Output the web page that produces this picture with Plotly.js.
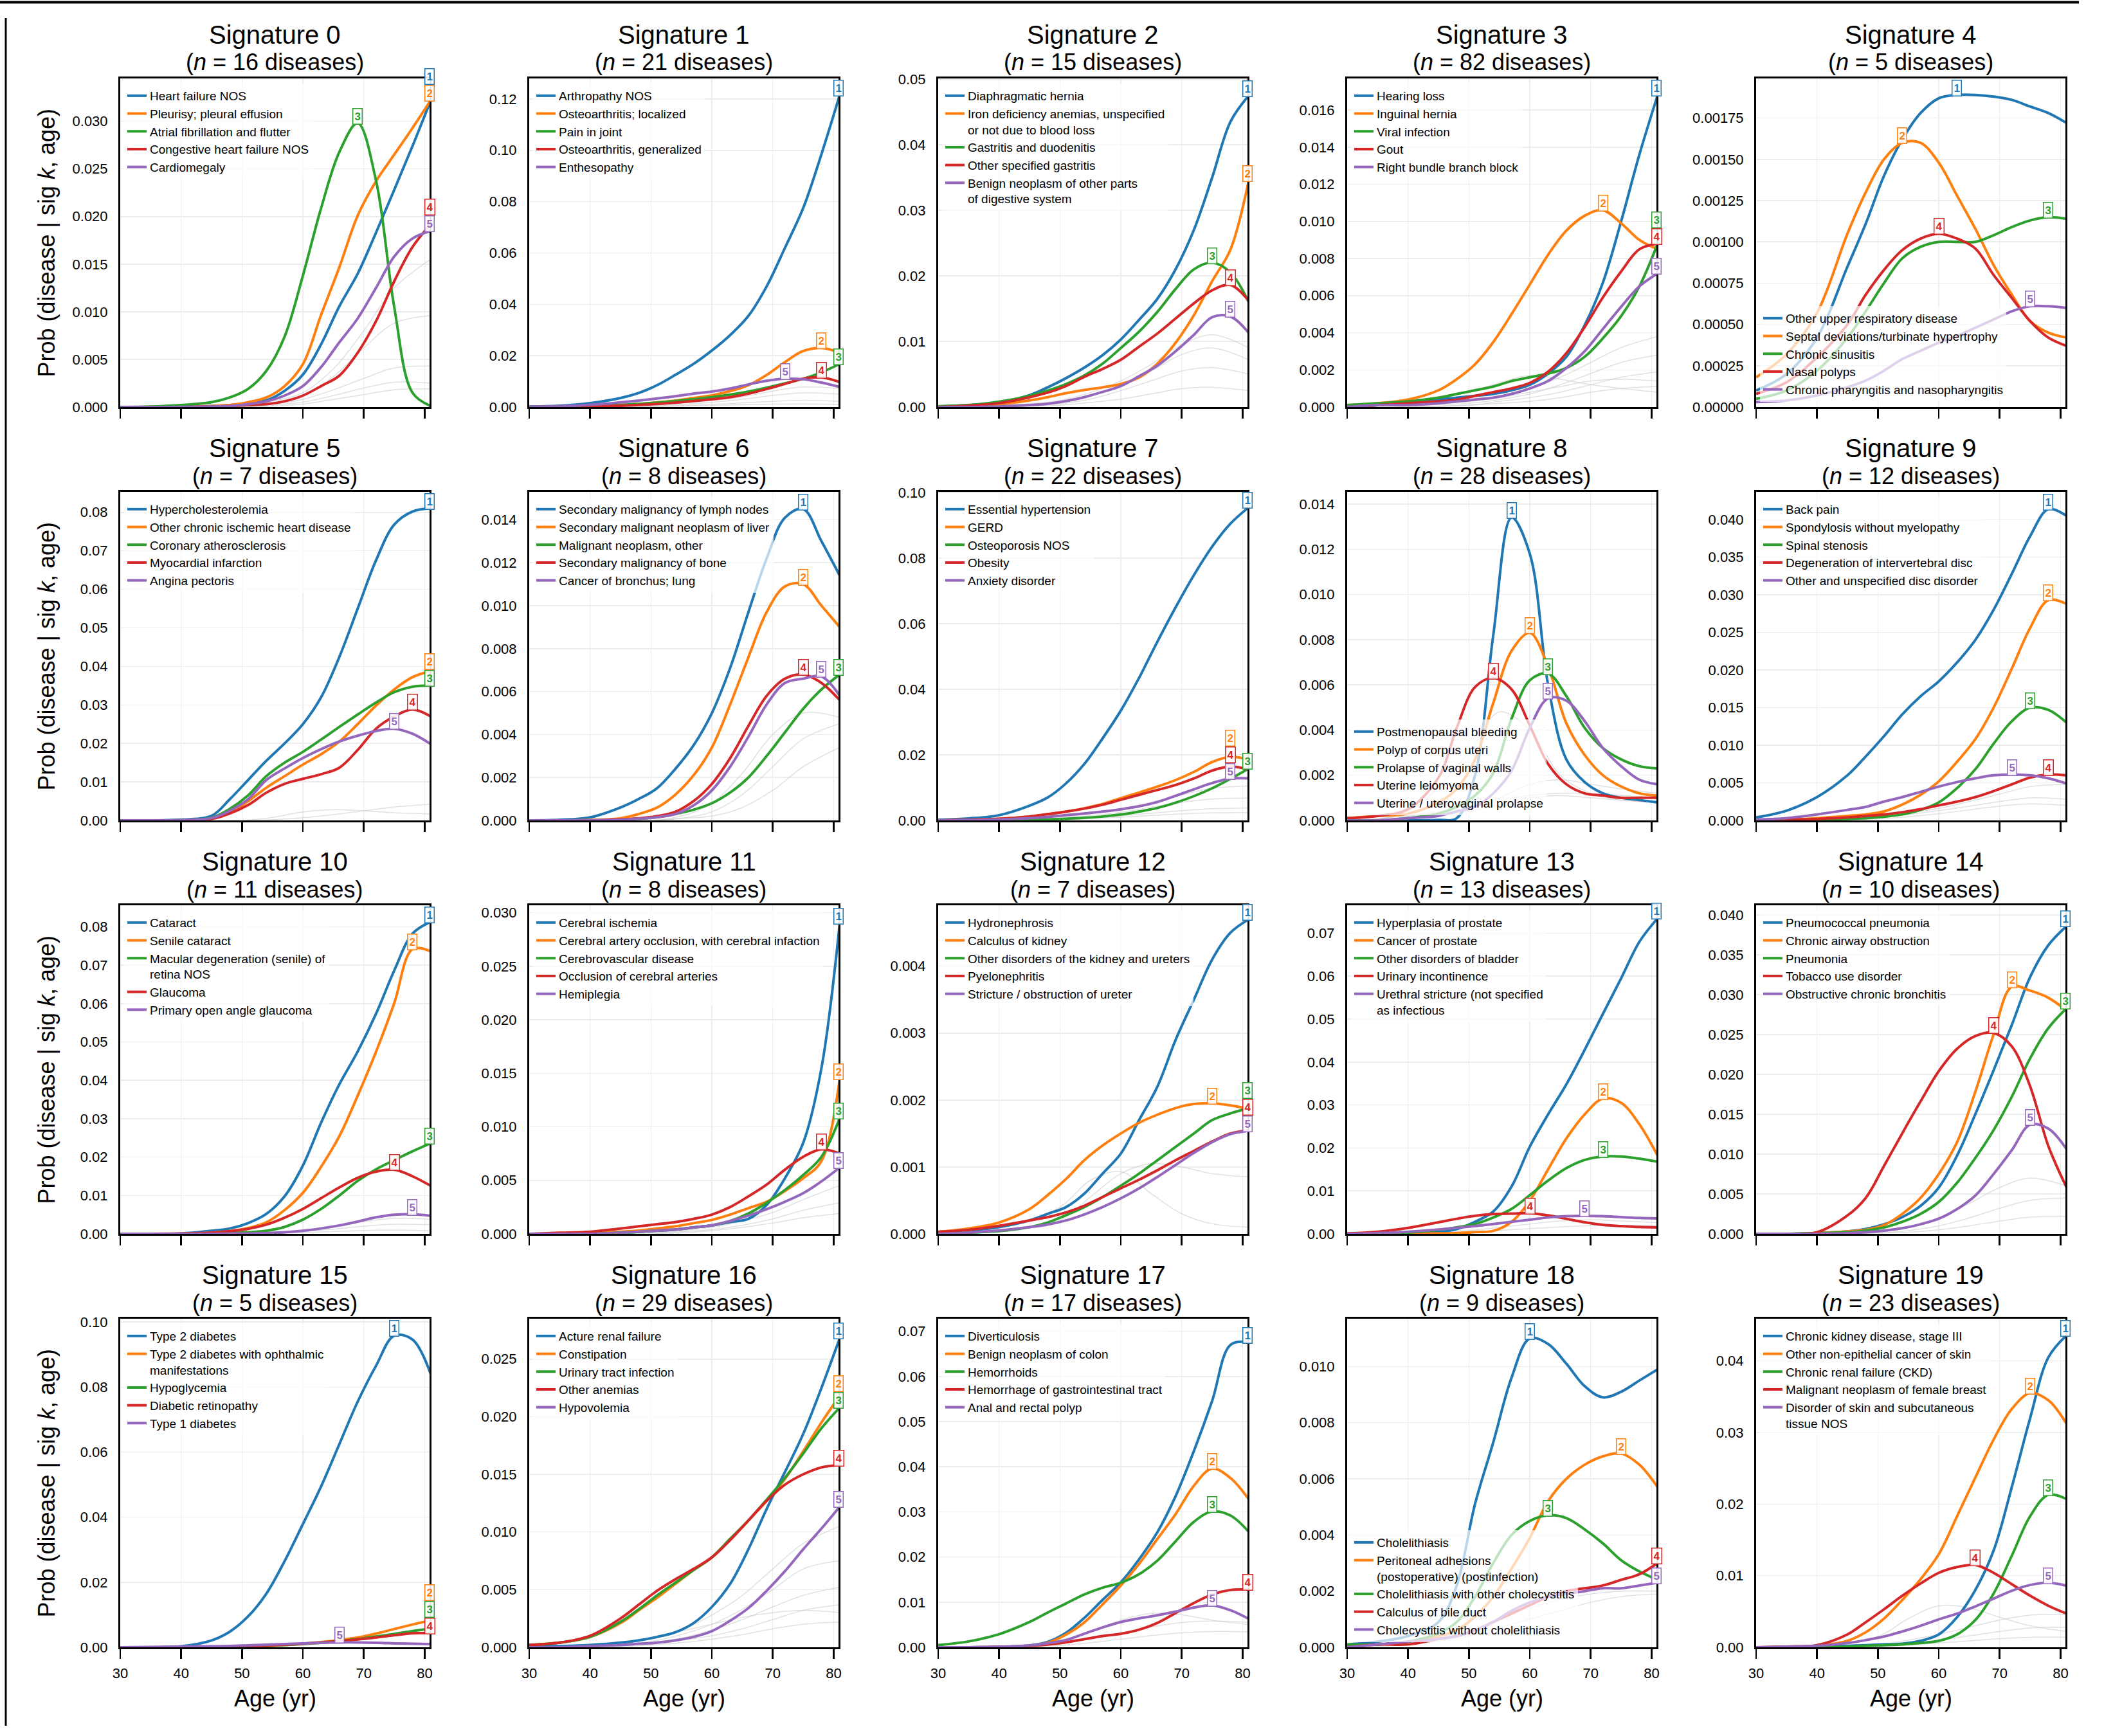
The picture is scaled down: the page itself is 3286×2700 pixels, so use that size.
<!DOCTYPE html>
<html>
<head>
<meta charset="utf-8">
<script src="https://cdn.plot.ly/plotly-3.0.1.min.js"></script>
<style>
  html, body { margin: 0; padding: 0; background: #fff; }
  #chart { width: 3286px; height: 2700px; }
</style>
</head>
<body>
<div id="chart"></div>
<script>
// -----------------------
// Data
// -----------------------
const AGES = [30, 35, 40, 45, 48, 51, 54, 57, 60, 63, 66, 69, 72, 75, 78, 81];
const AGES_BG = [30, 40, 50, 55, 60, 65, 70, 75, 81];

const N_DISEASES = [16, 21, 15, 82, 5, 7, 8, 22, 28, 12, 11, 8, 7, 13, 10, 5, 29, 17, 9, 23];
const Y_MAX  = [0.0345, 0.128, 0.0501, 0.0177, 0.00199, 0.0853, 0.0153, 0.1002, 0.01454, 0.0437,
                0.0856, 0.0307, 0.00491, 0.0765, 0.0412, 0.101, 0.0285, 0.0728, 0.0117, 0.0459];
const Y_STEP = [0.005, 0.02, 0.01, 0.002, 0.00025, 0.01, 0.002, 0.02, 0.002, 0.005,
                0.01, 0.005, 0.001, 0.01, 0.005, 0.02, 0.005, 0.01, 0.002, 0.01];
const Y_FMT  = [".3f", ".2f", ".2f", ".3f", ".5f", ".2f", ".3f", ".2f", ".3f", ".3f",
                ".2f", ".3f", ".3f", ".2f", ".3f", ".2f", ".3f", ".2f", ".3f", ".2f"];
const LEGEND_AT_BOTTOM = [4, 8, 18];

// Signature 0
const SIG0_NAMES = ["Heart failure NOS", "Pleurisy; pleural effusion", "Atrial fibrillation and flutter",
  "Congestive heart failure NOS", "Cardiomegaly"];
const SIG0_VALS = [
  [0, 0, 0.00005, 0.0001, 0.0002, 0.0004, 0.0007, 0.0017, 0.0034, 0.0066, 0.0106, 0.014, 0.0183, 0.0228, 0.0274, 0.0322],
  [0, 0, 0.00005, 0.0001, 0.0002, 0.0005, 0.001, 0.0022, 0.0045, 0.0097, 0.0147, 0.0201, 0.0237, 0.0265, 0.0293, 0.0322],
  [0, 0.00005, 0.0002, 0.0005, 0.001, 0.0019, 0.0038, 0.0074, 0.0138, 0.0209, 0.0268, 0.0298, 0.0238, 0.0105, 0.0015, 0.0001],
  [0, 0, 0, 0.00005, 0.0001, 0.0002, 0.0003, 0.0006, 0.0012, 0.0022, 0.0033, 0.0057, 0.009, 0.0132, 0.0168, 0.0192],
  [0, 0, 0, 0.00005, 0.0001, 0.0003, 0.0006, 0.0012, 0.0022, 0.0042, 0.0068, 0.0093, 0.0125, 0.0158, 0.0177, 0.0185]
];
const SIG0_GREY = [
  [0, 0, 0.0002, 0.0006, 0.0015, 0.004, 0.008, 0.0125, 0.0155],
  [0, 0, 0.0002, 0.0005, 0.0012, 0.0032, 0.0062, 0.0088, 0.0096],
  [0, 0, 0.0001, 0.0003, 0.0008, 0.0018, 0.003, 0.0041, 0.0043],
  [0, 0, 0, 0.0002, 0.0005, 0.0012, 0.002, 0.0026, 0.0025],
  [0, 0, 0, 0.0001, 0.0003, 0.0008, 0.0013, 0.0018, 0.0019]
];

// Signature 1
const SIG1_NAMES = ["Arthropathy NOS", "Osteoarthritis; localized", "Pain in joint",
  "Osteoarthritis, generalized", "Enthesopathy"];
const SIG1_VALS = [
  [0.0002, 0.0005, 0.0015, 0.0035, 0.0055, 0.0085, 0.0125, 0.0168, 0.022, 0.028, 0.0355, 0.047, 0.062, 0.0775, 0.0985, 0.1215],
  [0, 0.0001, 0.0003, 0.0008, 0.0012, 0.0018, 0.0025, 0.0035, 0.0045, 0.0062, 0.0085, 0.0125, 0.0175, 0.0218, 0.023, 0.0212],
  [0, 0.0001, 0.0003, 0.0008, 0.0012, 0.0017, 0.0023, 0.003, 0.0038, 0.0048, 0.006, 0.0075, 0.0092, 0.011, 0.0135, 0.0168],
  [0, 0.0001, 0.0002, 0.0005, 0.0008, 0.0012, 0.0017, 0.0023, 0.003, 0.0038, 0.0052, 0.007, 0.009, 0.011, 0.0115, 0.0097],
  [0.0001, 0.0003, 0.0008, 0.0018, 0.0025, 0.0033, 0.0042, 0.0052, 0.006, 0.0072, 0.0088, 0.0102, 0.011, 0.0108, 0.0095, 0.0078]
];
const SIG1_GREY = [
  [0, 0.0002, 0.0008, 0.0015, 0.0025, 0.004, 0.0062, 0.0078, 0.0072],
  [0, 0.0001, 0.0005, 0.001, 0.0018, 0.003, 0.0045, 0.0055, 0.005],
  [0, 0, 0.0003, 0.0006, 0.001, 0.0016, 0.0022, 0.0026, 0.0022],
  [0, 0, 0.0002, 0.0004, 0.0006, 0.0009, 0.0011, 0.0012, 0.001]
];

// Signature 2
const SIG2_NAMES = ["Diaphragmatic hernia", "Iron deficiency anemias, unspecified<br>or not due to blood loss",
  "Gastritis and duodenitis", "Other specified gastritis", "Benign neoplasm of other parts<br>of digestive system"];
const SIG2_VALS = [
  [0.0001, 0.0003, 0.0007, 0.0018, 0.003, 0.0044, 0.006, 0.0079, 0.0103, 0.0133, 0.0165, 0.021, 0.027, 0.035, 0.0435, 0.0475],
  [0, 0.0001, 0.0004, 0.001, 0.0015, 0.0021, 0.0026, 0.003, 0.0035, 0.0045, 0.0066, 0.0098, 0.014, 0.0192, 0.024, 0.0345],
  [0.0001, 0.0003, 0.0008, 0.0017, 0.0025, 0.0035, 0.0048, 0.0066, 0.009, 0.0115, 0.0145, 0.018, 0.021, 0.022, 0.0205, 0.016],
  [0, 0.0002, 0.0006, 0.0015, 0.0022, 0.0032, 0.0046, 0.0058, 0.0072, 0.0092, 0.0112, 0.0135, 0.0158, 0.0178, 0.0186, 0.0162],
  [0, 0, 0.0001, 0.0003, 0.0005, 0.0009, 0.0015, 0.0023, 0.0032, 0.0047, 0.0063, 0.0085, 0.011, 0.0137, 0.0138, 0.0113]
];
const SIG2_GREY = [
  [0, 0.0002, 0.001, 0.0022, 0.004, 0.0065, 0.0095, 0.011, 0.009],
  [0, 0.0001, 0.0008, 0.0018, 0.0033, 0.0055, 0.008, 0.009, 0.0072],
  [0, 0.0001, 0.0005, 0.0012, 0.0025, 0.004, 0.0055, 0.006, 0.005],
  [0, 0, 0.0003, 0.0007, 0.0012, 0.002, 0.0028, 0.003, 0.0025]
];

// Signature 3
const SIG3_NAMES = ["Hearing loss", "Inguinal hernia", "Viral infection", "Gout", "Right bundle branch block"];
const SIG3_VALS = [
  [0, 0.0001, 0.0002, 0.0004, 0.0005, 0.0006, 0.0007, 0.0009, 0.0012, 0.0018, 0.0027, 0.0044, 0.0067, 0.01, 0.0136, 0.0168],
  [0.0001, 0.0002, 0.0004, 0.0009, 0.0015, 0.0023, 0.0035, 0.005, 0.0066, 0.0082, 0.0095, 0.0103, 0.0106, 0.0099, 0.009, 0.0085],
  [0.0001, 0.0002, 0.0003, 0.0005, 0.0007, 0.0009, 0.0011, 0.0014, 0.0016, 0.0018, 0.0021, 0.0027, 0.0037, 0.0049, 0.0065, 0.0088],
  [0, 0.0001, 0.0002, 0.0003, 0.0004, 0.0006, 0.0008, 0.001, 0.0013, 0.0019, 0.0029, 0.0043, 0.0059, 0.0073, 0.0085, 0.0088],
  [0, 0.0001, 0.0001, 0.0002, 0.0003, 0.0004, 0.0005, 0.0007, 0.001, 0.0014, 0.0021, 0.003, 0.0042, 0.0054, 0.0065, 0.0072]
];
const SIG3_GREY = [
  [0, 0.0002, 0.0008, 0.0013, 0.0017, 0.0015, 0.0012, 0.001, 0.0008],
  [0, 0.0001, 0.0003, 0.0006, 0.001, 0.0016, 0.0024, 0.0032, 0.0038],
  [0, 0.0001, 0.0002, 0.0004, 0.0007, 0.0012, 0.0018, 0.0024, 0.0028],
  [0, 0, 0.0001, 0.0003, 0.0005, 0.0008, 0.0012, 0.0016, 0.0019],
  [0, 0, 0.0001, 0.0002, 0.0003, 0.0005, 0.0008, 0.001, 0.0011],
  [0, 0.0001, 0.0003, 0.0005, 0.0008, 0.0011, 0.0014, 0.0015, 0.0014]
];

// Signature 4
const SIG4_NAMES = ["Other upper respiratory disease", "Septal deviations/turbinate hypertrophy",
  "Chronic sinusitis", "Nasal polyps", "Chronic pharyngitis and nasopharyngitis"];
const SIG4_VALS = [
  [0.0001, 0.0002, 0.00042, 0.00085, 0.00111, 0.0014, 0.00162, 0.00178, 0.00187, 0.00189, 0.00189, 0.00188, 0.00186, 0.00182, 0.00178, 0.00172],
  [0.00018, 0.00032, 0.00057, 0.00105, 0.0013, 0.0015, 0.0016, 0.0016, 0.00148, 0.00128, 0.00108, 0.00086, 0.00068, 0.00052, 0.00045, 0.00042],
  [0.00005, 0.0001, 0.00022, 0.00042, 0.00058, 0.00075, 0.0009, 0.00097, 0.001, 0.001, 0.001, 0.00104, 0.00109, 0.00113, 0.00115, 0.00114],
  [0.00008, 0.00015, 0.0003, 0.0005, 0.00068, 0.00083, 0.00095, 0.00102, 0.00105, 0.00102, 0.00096, 0.0008, 0.00066, 0.00052, 0.00042, 0.00037],
  [0.00003, 0.00004, 0.00007, 0.00012, 0.00016, 0.00022, 0.00029, 0.00034, 0.00039, 0.00043, 0.00048, 0.00053, 0.00058, 0.00061, 0.00061, 0.0006]
];
const SIG4_GREY = [];

// Signature 5
const SIG5_NAMES = ["Hypercholesterolemia", "Other chronic ischemic heart disease", "Coronary atherosclerosis",
  "Myocardial infarction", "Angina pectoris"];
const SIG5_VALS = [
  [0, 0, 0.0002, 0.0012, 0.0055, 0.0105, 0.0155, 0.02, 0.025, 0.032, 0.0425, 0.055, 0.0675, 0.0768, 0.0802, 0.081],
  [0, 0, 0, 0.0005, 0.002, 0.005, 0.0085, 0.0115, 0.0145, 0.0172, 0.0205, 0.025, 0.0298, 0.034, 0.0372, 0.0388],
  [0, 0, 0.0001, 0.0007, 0.003, 0.0065, 0.0115, 0.015, 0.0178, 0.021, 0.0243, 0.0275, 0.0306, 0.0333, 0.0347, 0.035],
  [0, 0, 0, 0.0004, 0.0018, 0.004, 0.0072, 0.0095, 0.0108, 0.012, 0.0137, 0.0183, 0.0238, 0.027, 0.0288, 0.027],
  [0, 0, 0.0001, 0.0006, 0.0025, 0.0055, 0.0105, 0.0135, 0.0162, 0.0185, 0.0205, 0.022, 0.0232, 0.0238, 0.0225, 0.0198]
];
const SIG5_GREY = [
  [0, 0, 0, 0.0008, 0.0022, 0.0028, 0.0025, 0.002, 0.0017],
  [0, 0, 0, 0.0002, 0.0007, 0.0015, 0.0025, 0.0035, 0.0042]
];

// Signature 6
const SIG6_NAMES = ["Secondary malignancy of lymph nodes", "Secondary malignant neoplasm of liver",
  "Malignant neoplasm, other", "Secondary malignancy of bone", "Cancer of bronchus; lung"];
const SIG6_VALS = [
  [0, 0.00003, 0.00014, 0.0006, 0.001, 0.0015, 0.0024, 0.0035, 0.005, 0.0071, 0.0097, 0.0122, 0.0141, 0.0145, 0.013, 0.0114],
  [0, 0, 0.00002, 0.0001, 0.0003, 0.0006, 0.0012, 0.0021, 0.0034, 0.0054, 0.0076, 0.0097, 0.0109, 0.011, 0.01, 0.009],
  [0, 0, 0, 0.00003, 0.00008, 0.00015, 0.0003, 0.0005, 0.0008, 0.0013, 0.002, 0.003, 0.0041, 0.0052, 0.0061, 0.0068],
  [0, 0, 0, 0.00005, 0.0001, 0.0002, 0.0004, 0.0009, 0.0017, 0.0029, 0.0044, 0.0058, 0.0066, 0.0068, 0.0064, 0.0056],
  [0, 0, 0, 0.00003, 0.00008, 0.00015, 0.0003, 0.0007, 0.0014, 0.0025, 0.0039, 0.0054, 0.0064, 0.0066, 0.0067, 0.0058]
];
const SIG6_GREY = [
  [0, 0, 0, 0.0002, 0.0008, 0.0022, 0.004, 0.005, 0.0048],
  [0, 0, 0, 0.0001, 0.0004, 0.0012, 0.0025, 0.0038, 0.0045],
  [0, 0, 0, 0.0001, 0.0002, 0.0006, 0.0014, 0.0025, 0.0034]
];

// Signature 7
const SIG7_NAMES = ["Essential hypertension", "GERD", "Osteoporosis NOS", "Obesity", "Anxiety disorder"];
const SIG7_VALS = [
  [0.0002, 0.0006, 0.0016, 0.0045, 0.007, 0.0113, 0.0172, 0.025, 0.0335, 0.0435, 0.0545, 0.065, 0.0748, 0.0835, 0.0905, 0.0955],
  [0, 0.0002, 0.0005, 0.0012, 0.0019, 0.0027, 0.0037, 0.005, 0.0068, 0.0085, 0.0103, 0.0123, 0.0148, 0.0178, 0.0194, 0.0185],
  [0, 0, 0.0001, 0.0002, 0.0003, 0.0005, 0.0008, 0.0012, 0.0018, 0.0027, 0.0038, 0.0054, 0.0074, 0.0098, 0.0127, 0.0158],
  [0, 0.0002, 0.0005, 0.0012, 0.0019, 0.0027, 0.0036, 0.0048, 0.0063, 0.0078, 0.0093, 0.0108, 0.0128, 0.0152, 0.0164, 0.0155],
  [0, 0.0001, 0.0003, 0.0007, 0.0011, 0.0016, 0.0021, 0.0027, 0.0034, 0.0043, 0.0056, 0.0075, 0.0095, 0.0114, 0.0128, 0.0128]
];
const SIG7_GREY = [
  [0, 0.0003, 0.001, 0.002, 0.0035, 0.0055, 0.0078, 0.0098, 0.0105],
  [0, 0.0002, 0.0007, 0.0014, 0.0025, 0.004, 0.0055, 0.0065, 0.0068],
  [0, 0.0001, 0.0004, 0.0008, 0.0014, 0.0022, 0.003, 0.0036, 0.0038],
  [0, 0.0001, 0.0003, 0.0006, 0.001, 0.0015, 0.002, 0.0023, 0.0024]
];

// Signature 8
const SIG8_NAMES = ["Postmenopausal bleeding", "Polyp of corpus uteri", "Prolapse of vaginal walls",
  "Uterine leiomyoma", "Uterine / uterovaginal prolapse"];
const SIG8_VALS = [
  [0, 0, 0, 0.00002, 0.0001, 0.002, 0.0082, 0.0134, 0.0118, 0.006, 0.0027, 0.0017, 0.0012, 0.001, 0.0009, 0.0008],
  [0.0001, 0.0002, 0.0003, 0.0008, 0.0014, 0.0027, 0.0052, 0.0075, 0.0083, 0.0068, 0.0043, 0.0029, 0.002, 0.0015, 0.0012, 0.0011],
  [0, 0, 0.0001, 0.0003, 0.0006, 0.0011, 0.0021, 0.0045, 0.0062, 0.0065, 0.0055, 0.0041, 0.0032, 0.0027, 0.0024, 0.0023],
  [0.0001, 0.0002, 0.0005, 0.0019, 0.0041, 0.0059, 0.0063, 0.0058, 0.0042, 0.0025, 0.0016, 0.0012, 0.0011, 0.001, 0.001, 0.001],
  [0, 0, 0.0001, 0.0002, 0.0004, 0.0006, 0.0012, 0.0022, 0.0041, 0.0054, 0.0053, 0.0044, 0.0032, 0.0024, 0.0018, 0.0016]
];
const SIG8_GREY = [
  [0, 0.0004, 0.003, 0.0048, 0.004, 0.002, 0.0012, 0.0009, 0.0008],
  [0, 0.0001, 0.0005, 0.001, 0.0016, 0.0018, 0.0016, 0.0014, 0.0012],
  [0, 0.0001, 0.0004, 0.0007, 0.001, 0.0011, 0.001, 0.0009, 0.0008],
  [0, 0.0002, 0.0006, 0.0009, 0.0011, 0.0012, 0.0012, 0.0011, 0.001]
];

// Signature 9
const SIG9_NAMES = ["Back pain", "Spondylosis without myelopathy", "Spinal stenosis",
  "Degeneration of intervertebral disc", "Other and unspecified disc disorder"];
const SIG9_VALS = [
  [0.0004, 0.0013, 0.0031, 0.006, 0.0085, 0.0112, 0.0141, 0.0165, 0.0185, 0.021, 0.024, 0.028, 0.0328, 0.0378, 0.0414, 0.0405],
  [0, 0.0001, 0.0003, 0.0006, 0.0008, 0.0012, 0.0021, 0.0034, 0.0052, 0.0078, 0.0108, 0.015, 0.0202, 0.0256, 0.0293, 0.0288],
  [0, 0, 0.0001, 0.0002, 0.0003, 0.0005, 0.0008, 0.0014, 0.0024, 0.0043, 0.0068, 0.0102, 0.0132, 0.015, 0.0147, 0.013],
  [0, 0.0001, 0.0002, 0.0004, 0.0006, 0.0008, 0.0011, 0.0015, 0.002, 0.0025, 0.0031, 0.0039, 0.0048, 0.0057, 0.0061, 0.006],
  [0.0001, 0.0003, 0.0008, 0.0014, 0.0018, 0.0025, 0.0031, 0.0038, 0.0045, 0.0051, 0.0056, 0.006, 0.0061, 0.006, 0.0056, 0.0049]
];
const SIG9_GREY = [
  [0, 0.0001, 0.0005, 0.001, 0.0016, 0.0025, 0.0035, 0.0045, 0.0048],
  [0, 0.0001, 0.0004, 0.0008, 0.0013, 0.0019, 0.0025, 0.003, 0.0028],
  [0, 0, 0.0002, 0.0005, 0.0009, 0.0014, 0.0019, 0.0022, 0.002]
];

// Signature 10
const SIG10_NAMES = ["Cataract", "Senile cataract", "Macular degeneration (senile) of<br>retina NOS",
  "Glaucoma", "Primary open angle glaucoma"];
const SIG10_VALS = [
  [0, 0, 0.0001, 0.0008, 0.0014, 0.0028, 0.0052, 0.0098, 0.0178, 0.029, 0.039, 0.0475, 0.0573, 0.0686, 0.0782, 0.0813],
  [0, 0, 0, 0.0003, 0.0007, 0.0015, 0.003, 0.0062, 0.0107, 0.0175, 0.0255, 0.036, 0.0474, 0.0601, 0.0742, 0.0736],
  [0, 0, 0, 0.0001, 0.0002, 0.0004, 0.0008, 0.0018, 0.0037, 0.0065, 0.01, 0.0138, 0.0168, 0.0192, 0.0215, 0.0236],
  [0, 0, 0.0001, 0.0003, 0.0007, 0.0013, 0.0024, 0.0042, 0.0065, 0.0093, 0.0121, 0.0146, 0.0162, 0.0167, 0.015, 0.0125],
  [0, 0, 0, 0, 0.0001, 0.0001, 0.0002, 0.0004, 0.0008, 0.0014, 0.0022, 0.0032, 0.0043, 0.005, 0.0051, 0.0047]
];
const SIG10_GREY = [
  [0, 0, 0, 0.0003, 0.001, 0.002, 0.0032, 0.004, 0.0038],
  [0, 0, 0, 0.0002, 0.0006, 0.0012, 0.002, 0.0025, 0.0024],
  [0, 0, 0, 0.0001, 0.0003, 0.0006, 0.0009, 0.001, 0.0008]
];

// Signature 11
const SIG11_NAMES = ["Cerebral ischemia", "Cerebral artery occlusion, with cerebral infaction",
  "Cerebrovascular disease", "Occlusion of cerebral arteries", "Hemiplegia"];
const SIG11_VALS = [
  [0, 0, 0.0001, 0.0001, 0.0002, 0.0003, 0.0004, 0.0006, 0.0008, 0.0011, 0.0014, 0.0027, 0.0052, 0.0085, 0.0155, 0.029],
  [0, 0, 0.0001, 0.0002, 0.0003, 0.0005, 0.0007, 0.001, 0.0013, 0.0018, 0.0024, 0.003, 0.004, 0.0052, 0.0068, 0.0145],
  [0, 0, 0, 0.0001, 0.0002, 0.0003, 0.0004, 0.0006, 0.0008, 0.0012, 0.0019, 0.0029, 0.0041, 0.0055, 0.0072, 0.0108],
  [0, 0.0001, 0.0002, 0.0005, 0.0007, 0.0009, 0.0011, 0.0014, 0.0018, 0.0025, 0.0035, 0.0046, 0.006, 0.0072, 0.0079, 0.0075],
  [0, 0, 0, 0.0001, 0.0002, 0.0003, 0.0004, 0.0006, 0.0008, 0.0012, 0.0017, 0.0023, 0.003, 0.0038, 0.0049, 0.0062]
];
const SIG11_GREY = [
  [0, 0, 0.0001, 0.0003, 0.0006, 0.0012, 0.002, 0.0032, 0.0045],
  [0, 0, 0.0001, 0.0002, 0.0004, 0.0008, 0.0014, 0.0022, 0.0029],
  [0, 0, 0, 0.0001, 0.0003, 0.0006, 0.001, 0.0015, 0.0019]
];

// Signature 12
const SIG12_NAMES = ["Hydronephrosis", "Calculus of kidney", "Other disorders of the kidney and ureters",
  "Pyelonephritis", "Stricture / obstruction of ureter"];
const SIG12_VALS = [
  [0.00003, 0.00005, 0.0001, 0.0002, 0.0003, 0.0004, 0.0006, 0.0009, 0.0012, 0.0017, 0.0022, 0.0029, 0.0035, 0.0041, 0.0045, 0.0047],
  [0.00003, 0.00008, 0.00017, 0.00037, 0.00058, 0.00082, 0.0011, 0.00132, 0.0015, 0.00166, 0.00178, 0.00188, 0.00194, 0.00195, 0.00192, 0.00187],
  [0, 0.00002, 0.00004, 0.0001, 0.00017, 0.00028, 0.0004, 0.00055, 0.00072, 0.0009, 0.0011, 0.0013, 0.0015, 0.0017, 0.0018, 0.00188],
  [0.00003, 0.00006, 0.00012, 0.0002, 0.00025, 0.00032, 0.00042, 0.00055, 0.00068, 0.00081, 0.00095, 0.0011, 0.00124, 0.00138, 0.0015, 0.00155],
  [0, 0.00002, 0.00005, 0.0001, 0.00014, 0.0002, 0.00029, 0.0004, 0.00053, 0.00068, 0.00085, 0.00103, 0.00121, 0.00137, 0.00149, 0.00154]
];
const SIG12_GREY = [
  [0, 0.0001, 0.0004, 0.0008, 0.00093, 0.0006, 0.0003, 0.00015, 0.0001],
  [0, 0.00005, 0.0002, 0.00055, 0.0009, 0.00105, 0.001, 0.0009, 0.00085]
];

// Signature 13
const SIG13_NAMES = ["Hyperplasia of prostate", "Cancer of prostate", "Other disorders of bladder",
  "Urinary incontinence", "Urethral stricture (not specified<br>as infectious"];
const SIG13_VALS = [
  [0, 0, 0.0001, 0.0004, 0.0011, 0.0028, 0.0052, 0.011, 0.0203, 0.0278, 0.0348, 0.0428, 0.0512, 0.0595, 0.068, 0.0735],
  [0, 0, 0, 0.0001, 0.0002, 0.0004, 0.0007, 0.0028, 0.0077, 0.015, 0.0222, 0.0278, 0.0315, 0.0305, 0.0255, 0.0182],
  [0, 0.0001, 0.0003, 0.0009, 0.0015, 0.0023, 0.0038, 0.0058, 0.009, 0.0124, 0.0153, 0.0172, 0.018, 0.018, 0.0175, 0.0168],
  [0.0001, 0.0005, 0.0014, 0.0027, 0.0035, 0.0042, 0.0046, 0.0047, 0.0048, 0.0043, 0.0035, 0.0027, 0.0021, 0.0018, 0.0016, 0.0015],
  [0, 0.0002, 0.0005, 0.001, 0.0014, 0.0018, 0.0023, 0.0028, 0.0033, 0.0038, 0.0041, 0.0042, 0.0041, 0.0039, 0.0037, 0.0036]
];
const SIG13_GREY = [
  [0, 0.0002, 0.0008, 0.0015, 0.0023, 0.003, 0.0033, 0.003, 0.0026],
  [0, 0.0001, 0.0004, 0.0008, 0.0012, 0.0016, 0.0019, 0.002, 0.0019]
];

// Signature 14
const SIG14_NAMES = ["Pneumococcal pneumonia", "Chronic airway obstruction", "Pneumonia",
  "Tobacco use disorder", "Obstructive chronic bronchitis"];
const SIG14_VALS = [
  [0, 0, 0.0001, 0.0003, 0.0006, 0.0012, 0.0021, 0.0035, 0.0058, 0.0098, 0.015, 0.0205, 0.0262, 0.0322, 0.0362, 0.0386],
  [0, 0, 0.0001, 0.0003, 0.0005, 0.0011, 0.0025, 0.0045, 0.0075, 0.0115, 0.0178, 0.025, 0.031, 0.0305, 0.0296, 0.028],
  [0, 0, 0.0001, 0.0002, 0.0004, 0.0008, 0.0015, 0.0025, 0.004, 0.0064, 0.0095, 0.013, 0.0172, 0.022, 0.0258, 0.0283],
  [0, 0, 0.0002, 0.0023, 0.0045, 0.0085, 0.0126, 0.0166, 0.0204, 0.0232, 0.0248, 0.0252, 0.0235, 0.0185, 0.011, 0.0058],
  [0, 0, 0, 0.0001, 0.0002, 0.0004, 0.0007, 0.0012, 0.0019, 0.0031, 0.0048, 0.0075, 0.0105, 0.0137, 0.0132, 0.0106]
];
const SIG14_GREY = [
  [0, 0, 0.0002, 0.0008, 0.002, 0.0038, 0.0058, 0.007, 0.006],
  [0, 0, 0.0001, 0.0004, 0.001, 0.002, 0.0032, 0.0042, 0.0045],
  [0, 0, 0.0001, 0.0002, 0.0005, 0.001, 0.0016, 0.0021, 0.0022]
];

// Signature 15
const SIG15_NAMES = ["Type 2 diabetes", "Type 2 diabetes with ophthalmic<br>manifestations", "Hypoglycemia",
  "Diabetic retinopathy", "Type 1 diabetes"];
const SIG15_VALS = [
  [0, 0, 0.0003, 0.0021, 0.0048, 0.0095, 0.0165, 0.0265, 0.0379, 0.0495, 0.0625, 0.0755, 0.0865, 0.0958, 0.0946, 0.084],
  [0, 0, 0, 0.0001, 0.0001, 0.0002, 0.0004, 0.0007, 0.0011, 0.0016, 0.0022, 0.003, 0.0042, 0.0056, 0.007, 0.0083],
  [0, 0, 0, 0.0001, 0.0001, 0.0002, 0.0004, 0.0007, 0.001, 0.0014, 0.0019, 0.0025, 0.0033, 0.0041, 0.005, 0.0058],
  [0, 0, 0, 0.0001, 0.0002, 0.0003, 0.0005, 0.0008, 0.0011, 0.0015, 0.0019, 0.0024, 0.003, 0.0037, 0.0043, 0.0044],
  [0, 0.0001, 0.0002, 0.0003, 0.0004, 0.0006, 0.0008, 0.001, 0.0012, 0.0014, 0.0015, 0.0015, 0.0014, 0.0012, 0.0011, 0.001]
];
const SIG15_GREY = [];

// Signature 16
const SIG16_NAMES = ["Acture renal failure", "Constipation", "Urinary tract infection", "Other anemias", "Hypovolemia"];
const SIG16_VALS = [
  [0.0001, 0.0001, 0.0002, 0.0004, 0.0006, 0.0009, 0.0013, 0.0021, 0.0035, 0.0055, 0.0085, 0.012, 0.0152, 0.0185, 0.0225, 0.0268],
  [0.0002, 0.0004, 0.0009, 0.0021, 0.0032, 0.0043, 0.0055, 0.0067, 0.0078, 0.0094, 0.011, 0.0127, 0.0146, 0.017, 0.0195, 0.0218],
  [0.0002, 0.0004, 0.0009, 0.0022, 0.0033, 0.0045, 0.0056, 0.0067, 0.0078, 0.0094, 0.011, 0.0128, 0.0147, 0.0168, 0.019, 0.0208],
  [0.0002, 0.0004, 0.001, 0.0025, 0.0037, 0.0049, 0.0059, 0.0068, 0.0078, 0.0093, 0.011, 0.0127, 0.0141, 0.015, 0.0156, 0.0158],
  [0, 0, 0.0001, 0.0002, 0.0003, 0.0004, 0.0006, 0.0009, 0.0014, 0.0023, 0.0034, 0.0049, 0.0066, 0.0085, 0.0103, 0.0122]
];
const SIG16_GREY = [
  [0, 0.0001, 0.0007, 0.0015, 0.0028, 0.0045, 0.0068, 0.009, 0.0105],
  [0, 0.0001, 0.0005, 0.0011, 0.002, 0.0033, 0.005, 0.0068, 0.0075],
  [0, 0.0001, 0.0004, 0.0008, 0.0015, 0.0024, 0.0035, 0.0045, 0.0052],
  [0, 0.0001, 0.0003, 0.0006, 0.001, 0.0016, 0.0024, 0.0032, 0.0037],
  [0, 0, 0.0002, 0.0004, 0.0007, 0.0011, 0.0016, 0.002, 0.0022],
  [0, 0.0002, 0.0008, 0.0014, 0.002, 0.0026, 0.003, 0.0032, 0.003]
];

// Signature 17
const SIG17_NAMES = ["Diverticulosis", "Benign neoplasm of colon", "Hemorrhoids",
  "Hemorrhage of gastrointestinal tract", "Anal and rectal polyp"];
const SIG17_VALS = [
  [0, 0, 0.0001, 0.0004, 0.0012, 0.0032, 0.0065, 0.0105, 0.0144, 0.0195, 0.0255, 0.0335, 0.0435, 0.0546, 0.067, 0.0676],
  [0, 0, 0, 0.0003, 0.001, 0.0028, 0.0055, 0.0095, 0.0137, 0.0185, 0.024, 0.0295, 0.0358, 0.0396, 0.0375, 0.0328],
  [0.0005, 0.0013, 0.0029, 0.0056, 0.0077, 0.0097, 0.0117, 0.0132, 0.0143, 0.0162, 0.0192, 0.0235, 0.0278, 0.0301, 0.0292, 0.0256],
  [0, 0, 0.0001, 0.0003, 0.0006, 0.0011, 0.0018, 0.0025, 0.003, 0.0039, 0.0054, 0.0076, 0.0098, 0.0117, 0.0127, 0.0128],
  [0, 0, 0.0001, 0.0004, 0.0009, 0.0016, 0.003, 0.0044, 0.0056, 0.0064, 0.0071, 0.0079, 0.0088, 0.0093, 0.0082, 0.0063]
];
const SIG17_GREY = [
  [0, 0.0002, 0.0015, 0.0035, 0.006, 0.0075, 0.0072, 0.006, 0.005],
  [0, 0.0001, 0.0008, 0.0018, 0.0032, 0.0045, 0.0055, 0.0058, 0.0055],
  [0, 0, 0.0004, 0.001, 0.0018, 0.0026, 0.0032, 0.0035, 0.0034]
];

// Signature 18
const SIG18_NAMES = ["Cholelithiasis", "Peritoneal adhesions<br>(postoperative) (postinfection)",
  "Cholelithiasis with other cholecystitis", "Calculus of bile duct", "Cholecystitis without cholelithiasis"];
const SIG18_VALS = [
  [0.0001, 0.0002, 0.0004, 0.0009, 0.0022, 0.0051, 0.0073, 0.0096, 0.011, 0.0108, 0.0101, 0.0093, 0.0089, 0.0091, 0.0095, 0.0099],
  [0.0001, 0.0001, 0.0002, 0.0004, 0.0006, 0.0011, 0.0018, 0.0028, 0.0039, 0.0052, 0.006, 0.0065, 0.0068, 0.0069, 0.0065, 0.0057],
  [0.0001, 0.0001, 0.0002, 0.0005, 0.0009, 0.0018, 0.003, 0.004, 0.0045, 0.0047, 0.0046, 0.0042, 0.0037, 0.0031, 0.0027, 0.0024],
  [0, 0.0001, 0.0001, 0.0003, 0.0004, 0.0006, 0.0009, 0.0012, 0.0015, 0.0018, 0.002, 0.0021, 0.0022, 0.0024, 0.0026, 0.003],
  [0, 0.0001, 0.0002, 0.0003, 0.0004, 0.0006, 0.0009, 0.0013, 0.0016, 0.0018, 0.0019, 0.002, 0.0021, 0.0021, 0.0022, 0.0023]
];
const SIG18_GREY = [
  [0, 0.0002, 0.0006, 0.001, 0.0014, 0.0017, 0.0019, 0.002, 0.002],
  [0, 0.0001, 0.0004, 0.0007, 0.001, 0.0013, 0.0016, 0.0018, 0.0019]
];

// Signature 19
const SIG19_NAMES = ["Chronic kidney disease, stage III", "Other non-epithelial cancer of skin",
  "Chronic renal failure (CKD)", "Malignant neoplasm of female breast", "Disorder of skin and subcutaneous<br>tissue NOS"];
const SIG19_VALS = [
  [0, 0, 0.0001, 0.0002, 0.0003, 0.0004, 0.0005, 0.0009, 0.0018, 0.0042, 0.008, 0.0135, 0.0224, 0.032, 0.0405, 0.0436],
  [0, 0.0001, 0.0002, 0.0009, 0.0021, 0.004, 0.0066, 0.0095, 0.013, 0.0183, 0.0237, 0.029, 0.0333, 0.0355, 0.0345, 0.0312],
  [0, 0, 0, 0.0001, 0.0002, 0.0003, 0.0004, 0.0006, 0.0009, 0.0018, 0.0038, 0.0075, 0.0128, 0.0183, 0.0213, 0.0207],
  [0, 0.0001, 0.0003, 0.0018, 0.0035, 0.0053, 0.0072, 0.0089, 0.0104, 0.0112, 0.0115, 0.0104, 0.0088, 0.0072, 0.0058, 0.0047],
  [0, 0.0001, 0.0002, 0.0006, 0.001, 0.0015, 0.0022, 0.003, 0.0039, 0.0047, 0.0057, 0.0068, 0.0079, 0.0087, 0.009, 0.0086]
];
const SIG19_GREY = [
  [0, 0.0002, 0.0015, 0.004, 0.0058, 0.0055, 0.0042, 0.003, 0.0022],
  [0, 0.0001, 0.0004, 0.001, 0.0018, 0.0028, 0.0038, 0.0045, 0.0046],
  [0, 0, 0.0002, 0.0005, 0.001, 0.0016, 0.0022, 0.0027, 0.0028],
  [0, 0, 0.0001, 0.0003, 0.0006, 0.0009, 0.0012, 0.0014, 0.0014]
];

const PANELS = [
  [SIG0_NAMES, SIG0_VALS, SIG0_GREY], [SIG1_NAMES, SIG1_VALS, SIG1_GREY],
  [SIG2_NAMES, SIG2_VALS, SIG2_GREY], [SIG3_NAMES, SIG3_VALS, SIG3_GREY],
  [SIG4_NAMES, SIG4_VALS, SIG4_GREY], [SIG5_NAMES, SIG5_VALS, SIG5_GREY],
  [SIG6_NAMES, SIG6_VALS, SIG6_GREY], [SIG7_NAMES, SIG7_VALS, SIG7_GREY],
  [SIG8_NAMES, SIG8_VALS, SIG8_GREY], [SIG9_NAMES, SIG9_VALS, SIG9_GREY],
  [SIG10_NAMES, SIG10_VALS, SIG10_GREY], [SIG11_NAMES, SIG11_VALS, SIG11_GREY],
  [SIG12_NAMES, SIG12_VALS, SIG12_GREY], [SIG13_NAMES, SIG13_VALS, SIG13_GREY],
  [SIG14_NAMES, SIG14_VALS, SIG14_GREY], [SIG15_NAMES, SIG15_VALS, SIG15_GREY],
  [SIG16_NAMES, SIG16_VALS, SIG16_GREY], [SIG17_NAMES, SIG17_VALS, SIG17_GREY],
  [SIG18_NAMES, SIG18_VALS, SIG18_GREY], [SIG19_NAMES, SIG19_VALS, SIG19_GREY]
];

// -----------------------
// Layout constants (pixels)
// -----------------------
const W = 3286, H = 2700;
const COL_X0 = 187, COL_STEP = 636, PLOT_W = 481;
const ROW_Y0 = 122, ROW_STEP = 643, PLOT_H = 511;
const X_MAX = 80.8;
const COLORS = ["#1f77b4", "#ff7f0e", "#2ca02c", "#d62728", "#9467bd"];
const FONT = "Liberation Sans, Arial, Helvetica, sans-serif";
const BOX_LIFT = 11;   // marker box centre above the peak
const BOX_W = 24, BOX_H = 26;

const px = (v) => v / W;
const py = (v) => 1 - v / H;

// -----------------------
// Helpers
// -----------------------
function textNote(x, y, text, size, extra) {
  return Object.assign({
    x: x, y: y, xref: "paper", yref: "paper", showarrow: false,
    xanchor: "center", yanchor: "middle", text: text,
    font: { size: size, color: "#000", family: FONT }
  }, extra || {});
}

// numbered markers at each curve maximum, stacked when they would collide
function peakMarkers(vals, yMax) {
  const marks = vals.map((v, s) => {
    let k = 0;
    v.forEach((val, j) => { if (val > v[k]) k = j; });
    const x = Math.min(AGES[k], X_MAX);
    const by = (1 - v[k] / yMax) * PLOT_H - BOX_LIFT;
    return { s, x, y: v[k], bx: (x - 30) / (X_MAX - 30) * PLOT_W, by, by0: by };
  });
  const order = marks.slice().sort((a, b) => (b.by - a.by) || (b.s - a.s));
  const placed = [];
  order.forEach(m => {
    let moved = true;
    while (moved) {
      moved = false;
      for (const p of placed) {
        if (Math.abs(m.bx - p.bx) < BOX_W && Math.abs(m.by - p.by) < BOX_H) {
          m.by = p.by - BOX_H;
          moved = true;
        }
      }
    }
    placed.push(m);
  });
  return marks;
}

// -----------------------
// Build figure
// -----------------------
const traces = [];
const annotations = [];
const layout = {
  width: W, height: H,
  margin: { l: 0, r: 0, t: 0, b: 0 },
  paper_bgcolor: "#fff", plot_bgcolor: "#fff",
  font: { family: FONT, color: "#000" },
  showlegend: true,
  shapes: [
    { type: "line", xref: "paper", yref: "paper", x0: 0, x1: px(3233), y0: py(3.5), y1: py(3.5),
      line: { color: "#000", width: 4 } },
    { type: "line", xref: "paper", yref: "paper", x0: px(9), x1: px(9), y0: py(28), y1: py(2684),
      line: { color: "#000", width: 3 } }
  ]
};

PANELS.forEach(([names, vals, grey], i) => {
  const c = i % 5, r = Math.floor(i / 5);
  const left = COL_X0 + c * COL_STEP;
  const top = ROW_Y0 + r * ROW_STEP;
  const sfx = i === 0 ? "" : String(i + 1);
  const xa = "x" + sfx, ya = "y" + sfx, leg = "legend" + sfx;

  // background diseases
  grey.forEach(g => traces.push({
    x: AGES_BG, y: g, xaxis: xa, yaxis: ya, type: "scatter", mode: "lines",
    line: { color: "rgba(200,200,200,0.55)", width: 1.5, shape: "spline" },
    showlegend: false, hoverinfo: "skip"
  }));

  // top 5 diseases
  vals.forEach((v, s) => traces.push({
    x: AGES, y: v, xaxis: xa, yaxis: ya, type: "scatter", mode: "lines",
    name: names[s], legend: leg,
    line: { color: COLORS[s], width: 4, shape: "spline" }
  }));

  peakMarkers(vals, Y_MAX[i]).forEach(m => annotations.push({
    x: m.x, y: m.y, xref: xa, yref: ya, xanchor: "center", yanchor: "middle",
    text: "<b>" + (m.s + 1) + "</b>", showarrow: false, yshift: BOX_LIFT + (m.by0 - m.by),
    font: { size: 17, color: COLORS[m.s], family: FONT },
    bgcolor: "rgba(255,255,255,0.9)", bordercolor: COLORS[m.s], borderwidth: 1.5, borderpad: 2
  }));

  layout["xaxis" + sfx] = {
    domain: [px(left), px(left + PLOT_W)], anchor: ya,
    range: [30, X_MAX], tick0: 30, dtick: 10,
    ticks: "outside", ticklen: 15, tickwidth: 2.5, tickcolor: "#000",
    showline: true, linecolor: "#000", linewidth: 3, mirror: true,
    showgrid: true, gridcolor: "#ececec", gridwidth: 1.5, zeroline: false,
    showticklabels: r === 3, tickfont: { size: 22, color: "#000", family: FONT },
    ticklabelstandoff: 4
  };
  layout["yaxis" + sfx] = {
    domain: [py(top + PLOT_H), py(top)], anchor: xa,
    range: [0, Y_MAX[i]], tick0: 0, dtick: Y_STEP[i], tickformat: Y_FMT[i],
    ticks: "", showline: true, linecolor: "#000", linewidth: 3, mirror: true,
    showgrid: true, gridcolor: "#ececec", gridwidth: 1.5, zeroline: false,
    tickfont: { size: 22, color: "#000", family: FONT }, ticklabelstandoff: 12
  };

  const atBottom = LEGEND_AT_BOTTOM.includes(i);
  layout[leg] = {
    x: px(left + 6), xanchor: "left",
    y: atBottom ? py(top + PLOT_H - 8) : py(top + 8), yanchor: atBottom ? "bottom" : "top",
    bgcolor: "rgba(255,255,255,0.7)", borderwidth: 0,
    font: { size: 19, color: "#000", family: FONT },
    itemwidth: 30, tracegroupgap: 0, valign: "top"
  };

  // titles
  const cx = px(left + PLOT_W / 2);
  annotations.push(textNote(cx, py(top - 68), "Signature " + i, 40));
  annotations.push(textNote(cx, py(top - 25), "(<i>n</i> = " + N_DISEASES[i] + " diseases)", 36));
  if (c === 0) {
    annotations.push(textNote(px(72), py(top + PLOT_H / 2), "Prob (disease | sig <i>k</i>, age)", 36,
      { textangle: -90 }));
  }
  if (r === 3) {
    annotations.push(textNote(cx, py(2641), "Age (yr)", 36));
  }
});

layout.annotations = annotations;

Plotly.newPlot("chart", traces, layout, { staticPlot: true, displayModeBar: false });
</script>
</body>
</html>
